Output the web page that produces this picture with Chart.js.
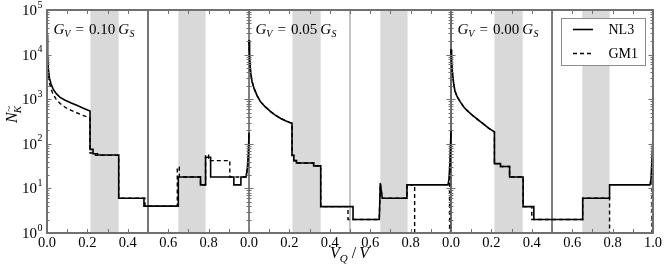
<!DOCTYPE html>
<html>
<head>
<meta charset="utf-8">
<script src="https://cdn.jsdelivr.net/npm/chart.js@4.4.0/dist/chart.umd.min.js"></script>
<style>
  html, body { margin: 0; padding: 0; background: #fff; }
  #wrap { width: 664px; height: 274px; }
</style>
</head>
<body>
<div id="wrap"><canvas id="chartNk" width="664" height="274"></canvas></div>
<script>
// G_V / G_S for each panel, left to right
const panelLabels = ['0.10', '0.05', '0.00'];
// shaded V_Q/V ranges, same in every panel
const bands = [[0.215, 0.355], [0.65, 0.785]];
const yExponents = [0, 1, 2, 3, 4, 5];

// [V_Q/V, N]; 0.5 stands for "zero" (below the log axis)
const nl3_g010 = [[0, 28000], [0.003, 9000], [0.006, 5000], [0.012, 3000], [0.02, 2200], [0.03, 1700],
  [0.045, 1350], [0.065, 1100], [0.09, 950], [0.12, 820], [0.15, 720], [0.18, 630], [0.213, 540],
  [0.213, 75], [0.228, 75], [0.228, 60], [0.25, 60], [0.25, 56], [0.355, 56], [0.355, 6], [0.48, 6],
  [0.48, 4], [0.65, 4], [0.65, 18], [0.76, 18], [0.76, 12], [0.785, 12], [0.785, 50], [0.81, 50],
  [0.81, 18], [0.925, 18], [0.925, 12], [0.96, 12], [0.96, 18], [0.985, 18], [0.992, 28], [0.997, 60], [1.0, 180]];
const gm1_g010 = [[0, 20000], [0.003, 6500], [0.006, 3800], [0.012, 2300], [0.02, 1700], [0.03, 1300],
  [0.045, 1000], [0.065, 800], [0.09, 660], [0.12, 560], [0.15, 490], [0.18, 430], [0.213, 380],
  [0.213, 62], [0.24, 62], [0.24, 55], [0.355, 55], [0.355, 6], [0.485, 6], [0.485, 4], [0.645, 4],
  [0.645, 30], [0.655, 30], [0.655, 18], [0.76, 18], [0.76, 12], [0.785, 12], [0.785, 56], [0.8, 56],
  [0.8, 42], [0.905, 42], [0.905, 18], [0.985, 18], [0.992, 28], [0.997, 60], [1.0, 180]];

const nl3_g005 = [[0, 21000], [0.003, 8000], [0.008, 4000], [0.015, 2500], [0.025, 1750], [0.04, 1200],
  [0.057, 880], [0.08, 680], [0.107, 525], [0.13, 440], [0.157, 370], [0.18, 330], [0.205, 295],
  [0.213, 290], [0.213, 55], [0.222, 55], [0.222, 42], [0.235, 42], [0.235, 37], [0.32, 37], [0.32, 32],
  [0.355, 32], [0.355, 3.9], [0.515, 3.9], [0.515, 2], [0.645, 2], [0.65, 13], [0.66, 6], [0.782, 6],
  [0.782, 12], [0.985, 12], [0.99, 16], [0.995, 40], [1.0, 200]];
const gm1_g005 = [[0, 21000], [0.003, 8000], [0.008, 4000], [0.015, 2500], [0.025, 1750], [0.04, 1200],
  [0.057, 880], [0.08, 680], [0.107, 525], [0.13, 440], [0.157, 370], [0.18, 330], [0.205, 295],
  [0.213, 290], [0.213, 55], [0.222, 55], [0.222, 42], [0.235, 42], [0.235, 37], [0.32, 37], [0.32, 32],
  [0.355, 32], [0.355, 3.9], [0.49, 3.9], [0.49, 2], [0.645, 2], [0.65, 13], [0.66, 6], [0.782, 6],
  [0.782, 12], [0.82, 12], [0.82, 0.5], [0.993, 0.5], [0.993, 18], [0.997, 50], [1.0, 200]];

const nl3_g000 = [[0, 13000], [0.003, 6500], [0.007, 4000], [0.013, 2300], [0.02, 1500], [0.03, 1150],
  [0.045, 880], [0.065, 650], [0.086, 525], [0.11, 420], [0.136, 340], [0.16, 280], [0.186, 225],
  [0.215, 185], [0.215, 36], [0.245, 36], [0.245, 31], [0.29, 31], [0.29, 18], [0.357, 18], [0.357, 3.9],
  [0.41, 3.9], [0.41, 2], [0.652, 2], [0.652, 6], [0.785, 6], [0.785, 12], [0.985, 12], [0.99, 16],
  [0.995, 45], [1.0, 150]];
const gm1_g000 = [[0, 13000], [0.003, 6500], [0.007, 4000], [0.013, 2300], [0.02, 1500], [0.03, 1150],
  [0.045, 880], [0.065, 650], [0.086, 525], [0.11, 420], [0.136, 340], [0.16, 280], [0.186, 225],
  [0.215, 185], [0.215, 36], [0.245, 36], [0.245, 31], [0.29, 31], [0.29, 18], [0.357, 18], [0.357, 3.9],
  [0.4, 3.9], [0.4, 2], [0.652, 2], [0.652, 6], [0.785, 6], [0.785, 0.5], [0.995, 0.5], [0.995, 12],
  [0.998, 40], [1.0, 150]];

const nl3Series = [nl3_g010, nl3_g005, nl3_g000];
const gm1Series = [gm1_g010, gm1_g005, gm1_g000];

const SERIF = '"Liberation Serif", "Times New Roman", serif';
const FRAME = '#707070';

// panel p occupies 0..1 shifted by p on the shared x axis
const shift = (pts, p) => pts.map(([x, y]) => ({ x: x + p, y: y }));

const datasets = [];
nl3Series.forEach((pts, p) => datasets.push({
  label: 'NL3', data: shift(pts, p), borderColor: '#000', borderWidth: 1.6,
  pointRadius: 0, tension: 0, fill: false
}));
gm1Series.forEach((pts, p) => datasets.push({
  label: 'GM1', data: shift(pts, p), borderColor: '#000', borderWidth: 1.4,
  borderDash: [4, 3], pointRadius: 0, tension: 0, fill: false
}));

const decor = {
  id: 'decor',
  beforeDatasetsDraw(chart) {
    const { ctx, chartArea: a, scales: { x } } = chart;
    ctx.save();
    ctx.fillStyle = '#d9d9d9';
    for (let p = 0; p < 3; p++) {
      bands.forEach(([b0, b1]) => {
        const x0 = x.getPixelForValue(p + b0), x1 = x.getPixelForValue(p + b1);
        ctx.fillRect(x0, a.top, x1 - x0, a.bottom - a.top);
      });
    }
    // half-way lines and panel walls
    const vlines = [[0.5, '#777', 2], [1, '#808080', 2], [1.5, '#8a8a8a', 1], [2, '#000', 1.2], [2.5, '#000', 1]];
    vlines.forEach(([v, c, w]) => {
      const px = x.getPixelForValue(v);
      ctx.strokeStyle = c; ctx.lineWidth = w;
      ctx.beginPath(); ctx.moveTo(px, a.top); ctx.lineTo(px, a.bottom); ctx.stroke();
    });
    ctx.restore();
  },
  afterDatasetsDraw(chart) {
    const { ctx, chartArea: a, scales: { x, y } } = chart;
    ctx.save();
    // ticks
    ctx.strokeStyle = FRAME; ctx.lineWidth = 1;
    ctx.beginPath();
    for (let i = 0; i <= 30; i++) {
      const px = Math.round(x.getPixelForValue(i / 10)) + 0.5;
      ctx.moveTo(px, a.bottom); ctx.lineTo(px, a.bottom - 4);
      ctx.moveTo(px, a.top); ctx.lineTo(px, a.top + 4);
    }
    for (let b = 0; b <= 3; b++) {
      const px = x.getPixelForValue(b);
      for (let e = 0; e < 5; e++) {
        for (let m = 1; m <= 9; m++) {
          const py = Math.round(y.getPixelForValue(m * Math.pow(10, e))) + 0.5;
          const len = m === 1 ? 4.5 : 2.5;
          if (b < 3) { ctx.moveTo(px, py); ctx.lineTo(px + len, py); }
          if (b > 0) { ctx.moveTo(px, py); ctx.lineTo(px - len, py); }
        }
      }
    }
    ctx.stroke();
    // frame
    ctx.strokeStyle = FRAME; ctx.lineWidth = 2;
    ctx.strokeRect(a.left, a.top, a.right - a.left, a.bottom - a.top);

    ctx.fillStyle = '#000';
    // y tick labels 10^n
    yExponents.forEach(e => {
      const py = y.getPixelForValue(Math.pow(10, e));
      ctx.font = '15px ' + SERIF;
      ctx.textAlign = 'right'; ctx.textBaseline = 'middle';
      ctx.fillText('10', 37, py + 1);
      ctx.font = '10px ' + SERIF;
      ctx.textAlign = 'left';
      ctx.fillText(String(e), 37.5, py - 5);
    });

    // panel annotations G_V = ... G_S
    panelLabels.forEach((lab, p) => {
      let cx = x.getPixelForValue(p) + 6.5;
      const base = a.top + 23.5;
      ctx.textAlign = 'left'; ctx.textBaseline = 'alphabetic';
      const put = (t, font, dy, gap) => {
        ctx.font = font; ctx.fillText(t, cx, base + dy);
        cx += ctx.measureText(t).width + gap;
      };
      put('G', 'italic 15px ' + SERIF, 0, 0);
      put('V', 'italic 10px ' + SERIF, 3.5, 5);
      put('=', '15px ' + SERIF, 0, 5);
      put(lab, '15px ' + SERIF, 0, 3);
      put('G', 'italic 15px ' + SERIF, 0, 0.5);
      put('S', 'italic 10px ' + SERIF, 3.5, 0);
    });

    // legend box
    const lx1 = a.right - 7.5, lx0 = lx1 - 84, ly0 = a.top + 8.5, ly1 = ly0 + 47;
    ctx.fillStyle = '#fff';
    ctx.fillRect(lx0, ly0, lx1 - lx0, ly1 - ly0);
    ctx.strokeStyle = '#8c8c8c'; ctx.lineWidth = 1;
    ctx.strokeRect(lx0, ly0, lx1 - lx0, ly1 - ly0);
    [['NL3', [], 1.6, 11], ['GM1', [4, 3], 1.4, 35]].forEach(([name, dash, w, dy]) => {
      ctx.strokeStyle = '#000'; ctx.lineWidth = w; ctx.setLineDash(dash);
      ctx.beginPath(); ctx.moveTo(lx0 + 11.5, ly0 + dy); ctx.lineTo(lx0 + 31.5, ly0 + dy); ctx.stroke();
      ctx.setLineDash([]);
      ctx.fillStyle = '#000'; ctx.font = '14px ' + SERIF;
      ctx.textAlign = 'left'; ctx.textBaseline = 'middle';
      ctx.fillText(name, lx0 + 47, ly0 + dy + 0.5);
    });

    // x axis title V_Q / V
    ctx.fillStyle = '#000'; ctx.textBaseline = 'alphabetic'; ctx.textAlign = 'left';
    let tx = (a.left + a.right) / 2 - 20;
    const tb = 258;
    const xt = [['V', 'italic 16px ', 0, 0], ['Q', 'italic 11px ', 4, 4], ['/', '16px ', 0, 3], ['V', 'italic 16px ', 0, 0]];
    xt.forEach(([t, f, dy, gap]) => {
      ctx.font = f + SERIF; ctx.fillText(t, tx, tb + dy);
      tx += ctx.measureText(t).width + gap;
    });

    // y axis title N_K~ (rotated)
    ctx.translate(17, 123);
    ctx.rotate(-Math.PI / 2);
    ctx.font = 'italic 16px ' + SERIF;
    ctx.fillText('N', 0, 0);
    const nw = ctx.measureText('N').width;
    ctx.font = 'italic 11px ' + SERIF;
    ctx.fillText('K', nw - 1, 3.5);
    ctx.font = '11px ' + SERIF;
    ctx.fillText('~', nw + 0.5, -5);
    ctx.restore();
  }
};

new Chart(document.getElementById('chartNk'), {
  type: 'line',
  data: { datasets },
  options: {
    responsive: false,
    animation: false,
    layout: { padding: { top: 10, right: 11, left: 0, bottom: 0 } },
    plugins: { legend: { display: false }, tooltip: { enabled: false } },
    scales: {
      x: {
        type: 'linear', min: 0, max: 3,
        grid: { display: false, drawTicks: false }, border: { display: false },
        ticks: {
          stepSize: 0.2, autoSkip: false, maxRotation: 0, padding: 1, color: '#000',
          font: { family: SERIF, size: 14.5 },
          callback: v => {
            const r = Math.round(v * 10) / 10;
            if (Math.abs(r - 3) < 1e-6) return '1.0';
            return (r - Math.floor(r + 1e-9)).toFixed(1);
          }
        },
        afterFit: s => { s.height = 41; }
      },
      y: {
        type: 'logarithmic', min: 1, max: 100000,
        grid: { display: false }, border: { display: false },
        ticks: { display: false },
        afterFit: s => { s.width = 47; }
      }
    }
  },
  plugins: [decor]
});
</script>
</body>
</html>
